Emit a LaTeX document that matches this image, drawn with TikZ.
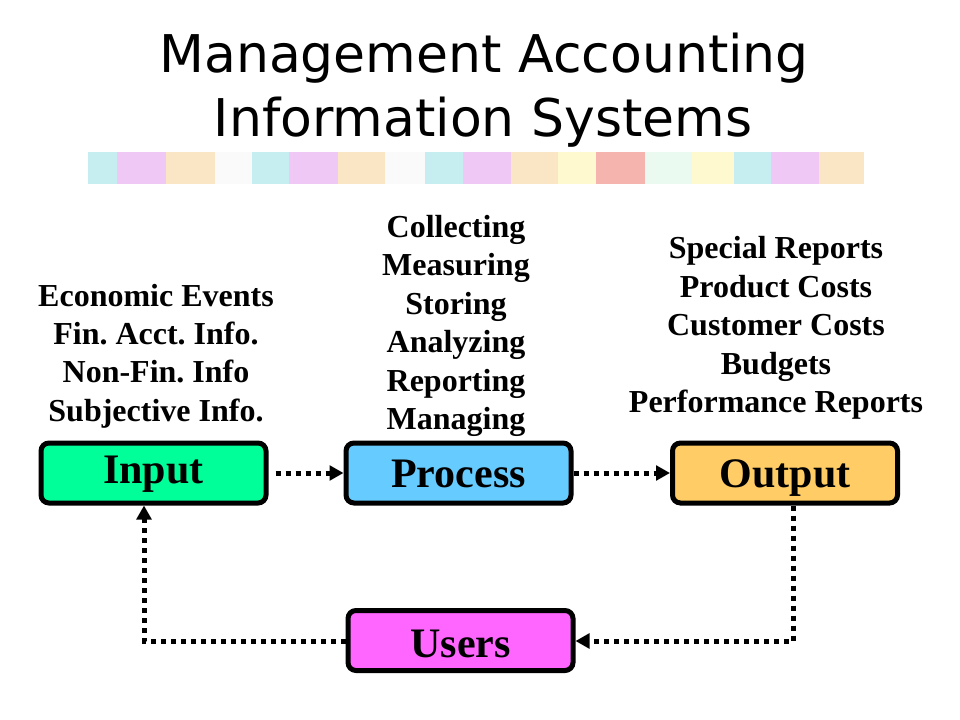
\documentclass[tikz,border=0pt]{standalone}
\usepackage{fontspec}
\setmainfont{Liberation Serif}
\newfontfamily\titlefont{DejaVu Sans}
\usetikzlibrary{arrows.meta}
\frenchspacing
\definecolor{scyan}{HTML}{C6EEF0}
\definecolor{sviolet}{HTML}{EFC8F5}
\definecolor{speach}{HTML}{FAE5C5}
\definecolor{swhite}{HTML}{FAFAFA}
\definecolor{syellow}{HTML}{FFF9CF}
\definecolor{ssalmon}{HTML}{F5B5AE}
\definecolor{sgreen}{HTML}{EBFAF0}
\definecolor{ingreen}{HTML}{00FF99}
\definecolor{procblue}{HTML}{66CCFF}
\definecolor{outorange}{HTML}{FFCC66}
\definecolor{usermag}{HTML}{FF66FF}
\tikzset{
  stagebox/.style={draw=black, line width=3.75pt, rounded corners=6pt,
    minimum width=168.75pt, minimum height=45pt, inner sep=0pt,
    text height=#1, text depth=2pt,
    font=\fontsize{31.5}{36}\selectfont\bfseries},
  stagebox/.default=24pt,
  listtext/.style={align=center, inner sep=0pt,
    font=\fontsize{24}{28.8}\selectfont\bfseries},
  titletext/.style={anchor=base, inner sep=0pt, font=\titlefont\fontsize{39}{46}\selectfont},
  dotarrow/.style={line width=3.75pt, dash pattern=on 3.75pt off 3.75pt,
    -{Triangle[length=10.5pt,width=11pt]}}
}
\begin{document}
\begin{tikzpicture}[x=0.75pt,y=-0.75pt]
\useasboundingbox (0,0) rectangle (960,720);
% title
\node[titletext] (t1) at (484,73) {Management Accounting};
\node[titletext] (t2) at (483,137) {Information Systems};
% colour strip
\foreach \a/\b/\c in {88/117/scyan,117/166/sviolet,166/215/speach,215/252/swhite,
  252/289/scyan,289/338/sviolet,338/385/speach,385/425/swhite,425/463/scyan,
  463/511/sviolet,511/558/speach,558/596/syellow,596/645/ssalmon,645/692/sgreen,
  692/734/syellow,734/771/scyan,771/819/sviolet,819/864/speach}
  \fill[\c] (\a,152) rectangle (\b,184);
% text lists
\node[listtext] (ltxt) at (156,356) {Economic Events\\Fin. Acct. Info.\\Non-Fin. Info\\Subjective Info.};
\node[listtext] (mtxt) at (456,326) {Collecting\\Measuring\\Storing\\Analyzing\\Reporting\\Managing};
\node[listtext] (rtxt) at (776,328) {Special Reports\\Product Costs\\Customer Costs\\Budgets\\Performance Reports};
% boxes
\node[stagebox=18pt, fill=ingreen] (in) at (153.5,473) {Input};
\node[stagebox=24pt, fill=procblue] (proc) at (458.5,473) {Process};
\node[stagebox=23pt, fill=outorange] (out) at (785,473) {Output};
\node[stagebox=28pt, fill=usermag] (users) at (460.5,640.5) {Users};
% connectors
\coordinate (c1) at (793,641);
\coordinate (c2) at (144,641);
\draw[dotarrow, shorten <=5.25pt] (in.east) -- (proc.west);
\draw[dotarrow] (proc.east) -- (out.west);
\draw[dotarrow] (out.south -| c1) -- (c1) -- (users.east |- c1);
\draw[dotarrow] (users.west |- c2) -- (c2) -- (in.south -| c2);
\end{tikzpicture}
\end{document}
